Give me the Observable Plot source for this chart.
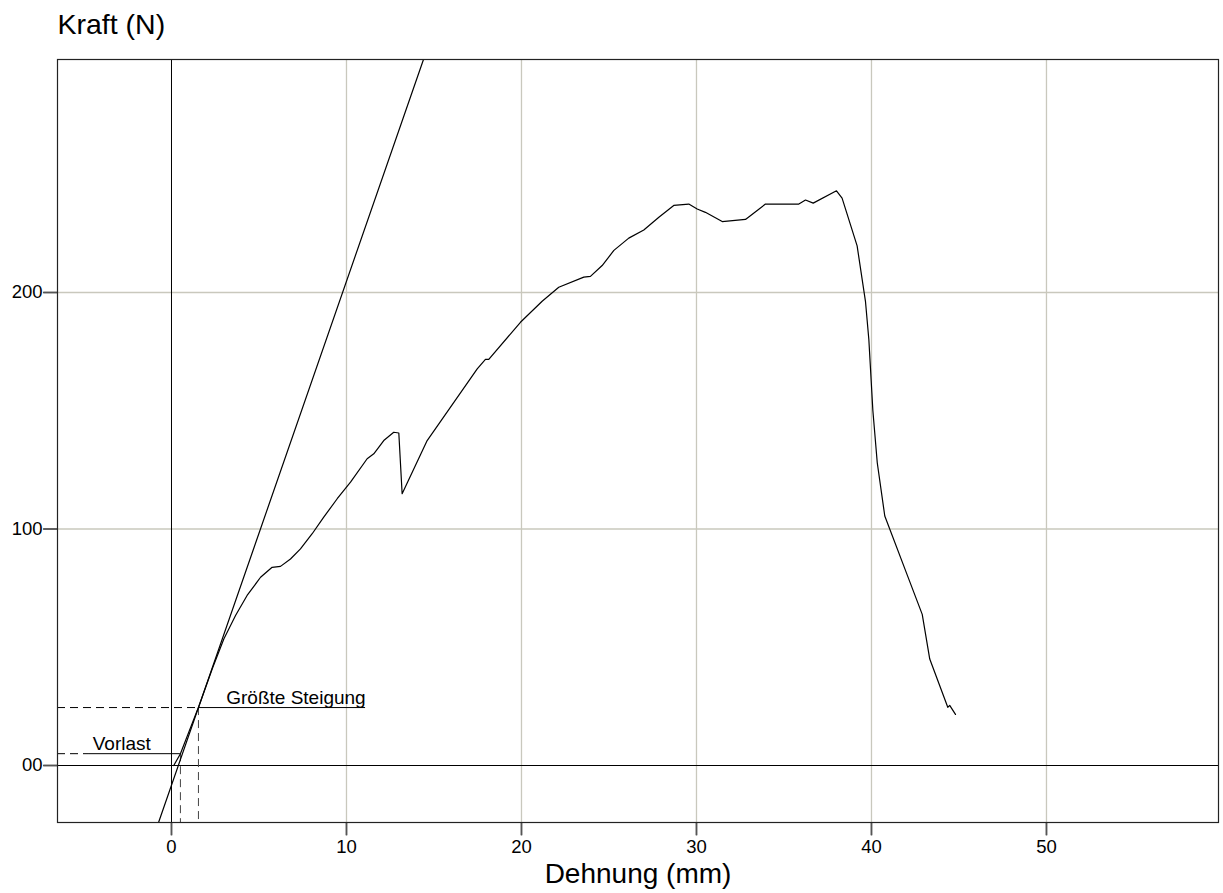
<!DOCTYPE html>
<html><head><meta charset="utf-8">
<script src="https://cdn.jsdelivr.net/npm/d3@7"></script>
<script src="https://cdn.jsdelivr.net/npm/@observablehq/plot@0.6"></script>
<style>
body{margin:0;background:#fff}
#chart svg{display:block;font-family:"Liberation Sans",Arial,Helvetica,sans-serif;background:#fff}
</style>
</head><body><div id="chart"></div>
<script>
// Measured curve: Dehnung (mm) vs Kraft (N)
const strain = [0.13, 0.51, 1.47, 1.54, 2.33, 2.99, 3.66, 4.32, 5.09, 5.75, 6.23, 6.8, 7.37, 8.04, 8.7, 9.47, 10.23, 11.18, 11.56, 12.13, 12.7, 12.99, 13.18, 14.61, 17.47, 17.94, 18.13, 19.94, 21.18, 22.13, 23.56, 23.94, 24.61, 25.28, 26.13, 26.99, 27.85, 28.7, 29.56, 30.04, 30.51, 31.47, 32.8, 33.47, 33.94, 35.85, 36.23, 36.67, 38.0, 38.32, 39.18, 39.66, 39.85, 40.08, 40.33, 40.76, 42.04, 42.9, 43.33, 44.36, 44.47, 44.8];
const force  = [0, 5, 23.3, 24.5, 40.9, 53.5, 63.4, 71.9, 79.6, 83.8, 84.2, 87.3, 91.6, 98.0, 105.0, 112.8, 119.8, 129.7, 131.8, 137.4, 140.9, 140.6, 114.9, 137.4, 167.7, 171.7, 171.7, 187.4, 196.3, 202.2, 206.5, 206.8, 211.4, 217.8, 223.0, 226.4, 231.8, 236.8, 237.4, 235.3, 233.9, 230.0, 230.9, 234.7, 237.4, 237.4, 239.1, 237.8, 243.0, 239.9, 219.7, 196.0, 180.0, 150.0, 128.0, 105.5, 80.6, 63.9, 45.0, 24.6, 25.4, 21.6];

const xTicks = [0, 10, 20, 30, 40, 50];
const xTickLabels = ["0", "10", "20", "30", "40", "50"];
const xGrid = [10, 20, 30, 40, 50];
const yTicks = [0, 100, 200];
const yTickLabels = ["00", "100", "200"];
const yGrid = [100, 200];
const xDomain = [-6.514, 59.83];
const yDomain = [-24.1, 298.52];

// Tangent of greatest slope
const tangentX = [-0.74, 14.40];
const tangentY = [-24.1, 298.52];

// Markers
const markerNames = ["Vorlast", "Größte Steigung"];
const markerForce = [5, 24.5];
const markerStrain = [0.51, 1.54];
const markerDashEnd = [-4.74, 1.54];
const markerSolidEnd = [0.51, 11.09];
const markerLabelX = [-4.5, 3.13];

const curve = strain.map((x, i) => ({x, y: force[i]}));
const tangent = tangentX.map((x, i) => ({x, y: tangentY[i]}));
const markers = markerNames.map((name, i) => ({
  name, y: markerForce[i], x: markerStrain[i], dashEnd: markerDashEnd[i],
  solidEnd: markerSolidEnd[i], labelX: markerLabelX[i]
}));

const GRID = "#c9c8bd";
const TICK = "#555";
// outside tick lengths expressed in data units (13px down, 14px left)
const xTickLen = 13 / 2.365;
const yTickLen = 14 / 17.5;

const chart = Plot.plot({
  width: 1223,
  height: 893,
  marginLeft: 57,
  marginRight: 5,
  marginTop: 59,
  marginBottom: 71,
  x: {domain: xDomain},
  y: {domain: yDomain},
  marks: [
    Plot.gridX(xGrid, {stroke: GRID, strokeOpacity: 1, strokeWidth: 1.3}),
    Plot.gridY(yGrid, {stroke: GRID, strokeOpacity: 1, strokeWidth: 1.3}),
    Plot.axisX({ticks: xTicks, tickFormat: (d) => xTickLabels[xTicks.indexOf(d)], tickSize: 13, tickPadding: 4, stroke: TICK, strokeWidth: 1.5, fontSize: 18.5, label: null}),
    Plot.axisY({ticks: yTicks, tickFormat: (d) => yTickLabels[yTicks.indexOf(d)], tickSize: 14, tickPadding: 1, stroke: TICK, strokeWidth: 1.5, fontSize: 18.5, label: null}),
    Plot.link(xTicks, {x1: d => d, x2: d => d, y1: () => yDomain[0], y2: () => yDomain[0] - xTickLen, stroke: TICK, strokeWidth: 1.5}),
    Plot.link(yTicks, {y1: d => d, y2: d => d, x1: () => xDomain[0] - yTickLen, x2: () => xDomain[0], stroke: TICK, strokeWidth: 1.5}),
    Plot.ruleX([0], {stroke: "#000", strokeWidth: 1}),
    Plot.ruleY([0], {stroke: "#000", strokeWidth: 1}),
    Plot.ruleY(markers, {y: "y", x1: () => xDomain[0], x2: "dashEnd", stroke: "#000", strokeDasharray: "8,5", strokeWidth: 1}),
    Plot.ruleY(markers, {y: "y", x1: "dashEnd", x2: "solidEnd", stroke: "#000", strokeWidth: 1}),
    Plot.ruleX(markers, {x: "x", y1: "y", y2: () => yDomain[0], stroke: "#444", strokeDasharray: "8,5", strokeWidth: 1}),
    Plot.text(markers, {x: "labelX", y: "y", text: "name", textAnchor: "start", lineAnchor: "bottom", dy: -4, fontSize: 19}),
    Plot.line(tangent, {x: "x", y: "y", stroke: "#000", strokeWidth: 1.2}),
    Plot.line(curve, {x: "x", y: "y", stroke: "#000", strokeWidth: 1.2}),
    Plot.frame({stroke: "#222", strokeWidth: 1.2}),
    Plot.text(["Kraft (N)"], {text: d => d, frameAnchor: "top-left", textAnchor: "start", lineAnchor: "bottom", dy: -26, fontSize: 28.5}),
    Plot.text(["Dehnung (mm)"], {text: d => d, frameAnchor: "bottom", textAnchor: "middle", lineAnchor: "bottom", dy: 60, fontSize: 28})
  ]
});
document.getElementById("chart").appendChild(chart);
</script>
</body></html>
